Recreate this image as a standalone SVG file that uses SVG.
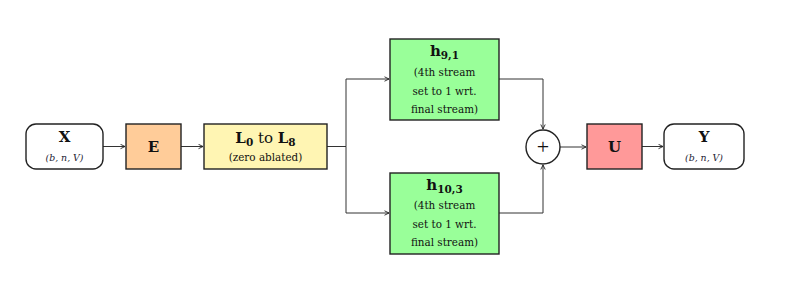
<svg xmlns="http://www.w3.org/2000/svg" width="788" height="296" viewBox="0 0 788 296">
<defs>
<marker id="arr" viewBox="0 0 6 6" refX="5.5" refY="3" markerWidth="6" markerHeight="6" markerUnits="userSpaceOnUse" orient="auto">
<path d="M1,0.8 L5.5,3 L1,5.2" fill="none" stroke="#222" stroke-width="0.9"/>
</marker>
</defs>
<style>
.box{stroke:#222;stroke-width:1.4}
.t{font-family:"DejaVu Serif","Liberation Serif",serif;fill:#111;text-anchor:middle}
.title{font-size:15px;font-weight:bold}
.small{font-size:10.4px}
.it{font-style:italic;font-size:9.4px;fill:#223}
.c{fill:none;stroke:#333;stroke-width:1}
</style>
<rect width="788" height="296" fill="#fff"/>
<g id="connectors">
<path class="c" d="M103,146.5 H125" marker-end="url(#arr)"/>
<path class="c" d="M181,146.5 H203" marker-end="url(#arr)"/>
<path class="c" d="M327,146.5 H346 V79 H389" marker-end="url(#arr)"/>
<path class="c" d="M346,146.5 V213 H389" marker-end="url(#arr)"/>
<path class="c" d="M499,79 H543 V129" marker-end="url(#arr)"/>
<path class="c" d="M499,213 H543 V165" marker-end="url(#arr)"/>
<path class="c" d="M560,147 H586" marker-end="url(#arr)"/>
<path class="c" d="M642,146.5 H663" marker-end="url(#arr)"/>
</g>
<g id="X">
<rect class="box" x="26" y="124" width="77" height="45" rx="10" fill="#fff"/>
<text class="t title" x="64.5" y="142">X</text>
<text class="t it" x="64.5" y="160.5">(b, n, V)</text>
</g>
<g id="E">
<rect class="box" x="126" y="124" width="55" height="45" fill="#FFCC99"/>
<text class="t title" x="153.5" y="152">E</text>
</g>
<g id="L">
<rect class="box" x="204" y="124" width="123" height="45" fill="#FFF5B3"/>
<text class="t" x="265.5" y="143" style="font-size:15px"><tspan font-weight="bold">L</tspan><tspan font-weight="bold" font-size="10.5" dy="3">0</tspan><tspan dy="-3"> to </tspan><tspan font-weight="bold">L</tspan><tspan font-weight="bold" font-size="10.5" dy="3">8</tspan></text>
<text class="t small" x="265.5" y="160.5">(zero ablated)</text>
</g>
<g id="h91">
<rect class="box" x="390" y="39" width="109" height="81" fill="#99FF99"/>
<text class="t" x="444.5" y="56" style="font-size:15px"><tspan font-weight="bold">h</tspan><tspan font-weight="bold" font-size="10.5" dy="3">9,1</tspan></text>
<text class="t small" x="444.5" y="75.5">(4th stream</text>
<text class="t small" x="444.5" y="94.5">set to 1 wrt.</text>
<text class="t small" x="444.5" y="112.5">final stream)</text>
</g>
<g id="h103">
<rect class="box" x="390" y="173" width="109" height="81" fill="#99FF99"/>
<text class="t" x="444.5" y="190" style="font-size:15px"><tspan font-weight="bold">h</tspan><tspan font-weight="bold" font-size="10.5" dy="3">10,3</tspan></text>
<text class="t small" x="444.5" y="209">(4th stream</text>
<text class="t small" x="444.5" y="228">set to 1 wrt.</text>
<text class="t small" x="444.5" y="246">final stream)</text>
</g>
<g id="plus">
<circle cx="543" cy="147" r="17" fill="#fff" stroke="#222" stroke-width="1.4"/>
<text x="543" y="154" style="font-family:'Liberation Serif',serif;font-size:22px;text-anchor:middle;fill:#111">+</text>
</g>
<g id="U">
<rect class="box" x="587" y="124" width="55" height="45" fill="#FF9999"/>
<text class="t title" x="614.5" y="152">U</text>
</g>
<g id="Y">
<rect class="box" x="664" y="124" width="80" height="45" rx="10" fill="#fff"/>
<text class="t title" x="704" y="142">Y</text>
<text class="t it" x="704" y="160.5">(b, n, V)</text>
</g>
</svg>
